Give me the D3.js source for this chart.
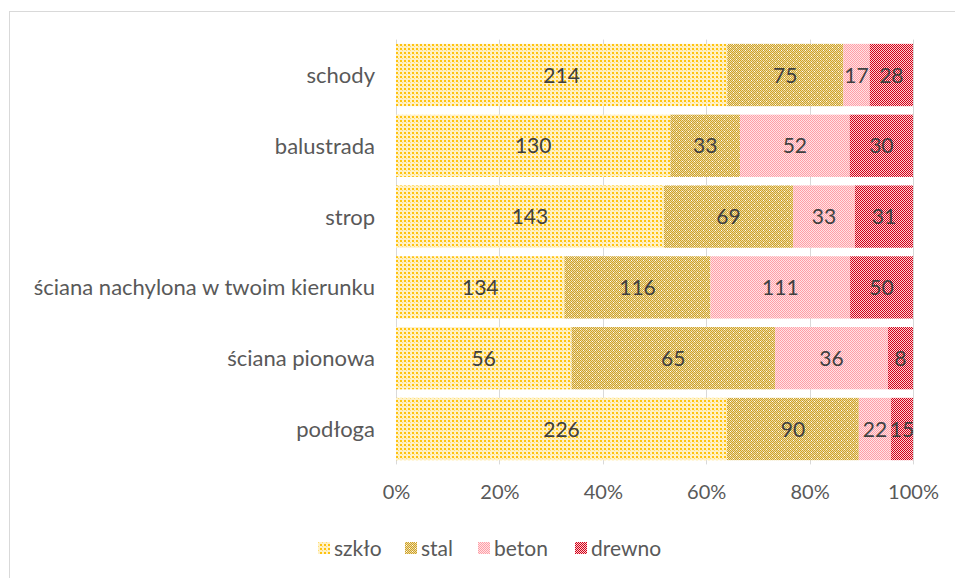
<!DOCTYPE html>
<html>
<head>
<meta charset="utf-8">
<script src="https://cdn.jsdelivr.net/npm/d3@7"></script>
<style>
  html, body { margin: 0; padding: 0; background: #fff; }
  svg { display: block; }
  text { font-family: Lato, "Open Sans", sans-serif; }
</style>
</head>
<body>
<svg id="chart" width="955" height="578"></svg>
<script>
// Categories, top to bottom
const categories = ["schody", "balustrada", "strop", "ściana nachylona w twoim kierunku", "ściana pionowa", "podłoga"];
// Series (stack order left to right)
const seriesNames = ["szkło", "stal", "beton", "drewno"];
const szklo  = [214, 130, 143, 134, 56, 226];
const stal   = [75, 33, 69, 116, 65, 90];
const beton  = [17, 52, 33, 111, 36, 22];
const drewno = [28, 30, 31, 50, 8, 15];
const tickLabels = ["0%", "20%", "40%", "60%", "80%", "100%"];

const rows = categories.map((c, i) => ({
  category: c,
  "szkło": szklo[i], "stal": stal[i], "beton": beton[i], "drewno": drewno[i]
}));

const svg = d3.select("#chart");
const defs = svg.append("defs");

// Pattern fills for each series
function pattern(id, size, bg, cells) {
  const p = defs.append("pattern")
    .attr("id", id).attr("patternUnits", "userSpaceOnUse")
    .attr("width", size).attr("height", size);
  p.append("rect").attr("width", size).attr("height", size).attr("fill", bg);
  cells.forEach(([x, y, w, h, col]) => {
    p.append("rect").attr("x", x).attr("y", y).attr("width", w).attr("height", h).attr("fill", col);
  });
}
// szkło: yellow dot lattice
pattern("p-szklo", 4, "#fff1c6", [[0, 0, 2, 2, "#ffc30f"], [2, 2, 1, 1, "#ffdf70"]]);
// stal: gold checkerboard with white specks
const gold = "#cda12a";
const stalCells = [];
for (let r = 0; r < 6; r++) for (let c = 0; c < 6; c++) if ((r + c) % 2 === 0) stalCells.push([c, r, 1, 1, gold]);
stalCells.push([1, 2, 1, 1, "#ffffff"], [4, 5, 1, 1, "#ffffff"]);
pattern("p-stal", 6, "#f0dda4", stalCells);
// beton: pink checkerboard
pattern("p-beton", 2, "#ffe3e5", [[0, 0, 1, 1, "#ff9ea6"], [1, 1, 1, 1, "#ff9ea6"]]);
// drewno: red checkerboard
pattern("p-drewno", 2, "#ffd0d3", [[0, 0, 1, 1, "#cf0018"], [1, 1, 1, 1, "#cf0018"]]);

const fills = {"szkło": "url(#p-szklo)", "stal": "url(#p-stal)", "beton": "url(#p-beton)", "drewno": "url(#p-drewno)"};

// Outer chart frame
svg.append("rect")
  .attr("x", 9.5).attr("y", 11.5).attr("width", 1000).attr("height", 700)
  .attr("fill", "none").attr("stroke", "#d9d9d9").attr("stroke-width", 1);

const x0 = 396, x1 = 913, yTop = 39.6, yBot = 464.4;

const x = d3.scaleLinear().domain([0, 1]).range([x0, x1]);
const y = d3.scaleBand().domain(categories).range([yTop, yBot]).paddingInner(0.12).paddingOuter(0.06);

// Vertical gridlines
const ticks = d3.range(0, 1.0001, 0.2);
svg.append("g").selectAll("line").data(ticks).join("line")
  .attr("x1", d => Math.round(x(d)) + 0.5).attr("x2", d => Math.round(x(d)) + 0.5)
  .attr("y1", yTop).attr("y2", yBot)
  .attr("stroke", "#d9d9d9").attr("stroke-width", 1);

// Stack normalised to 100%
const stack = d3.stack().keys(seriesNames).offset(d3.stackOffsetExpand);
const layers = stack(rows);

const g = svg.append("g");
layers.forEach(layer => {
  const key = layer.key;
  const lg = g.append("g");
  lg.selectAll("rect").data(layer).join("rect")
    .attr("x", d => x(d[0]))
    .attr("y", d => y(d.data.category))
    .attr("width", d => x(d[1]) - x(d[0]))
    .attr("height", y.bandwidth())
    .attr("fill", fills[key]);
  lg.selectAll("text").data(layer).join("text")
    .attr("x", d => (x(d[0]) + x(d[1])) / 2)
    .attr("y", d => y(d.data.category) + y.bandwidth() / 2)
    .attr("dy", "0.36em")
    .attr("text-anchor", "middle")
    .attr("font-size", 21)
    .attr("fill", "#404040")
    .text(d => d.data[key]);
});

// Category labels
svg.append("g").selectAll("text").data(categories).join("text")
  .attr("x", 375)
  .attr("y", d => y(d) + y.bandwidth() / 2)
  .attr("dy", "0.36em")
  .attr("text-anchor", "end")
  .attr("font-size", 22)
  .attr("fill", "#595959")
  .text(d => d);

// Percentage axis
const axis = d3.axisBottom(x).tickValues(ticks).tickSize(0)
  .tickFormat((d, i) => tickLabels[i]);
const ax = svg.append("g").attr("transform", `translate(0,${yBot + 17})`).call(axis);
ax.select(".domain").remove();
ax.selectAll("text").attr("font-size", 20).attr("fill", "#595959")
  .attr("font-family", "Lato, 'Open Sans', sans-serif");

// Legend
const legendItems = [
  {name: "szkło", x: 318},
  {name: "stal", x: 405},
  {name: "beton", x: 478},
  {name: "drewno", x: 575}
];
const lg = svg.append("g");
legendItems.forEach(it => {
  lg.append("rect").attr("x", it.x).attr("y", 542).attr("width", 12).attr("height", 12)
    .attr("fill", fills[it.name]);
  lg.append("text").attr("x", it.x + 16).attr("y", 548).attr("dy", "0.36em")
    .attr("font-size", 21).attr("fill", "#595959").text(it.name);
});
</script>
</body>
</html>
